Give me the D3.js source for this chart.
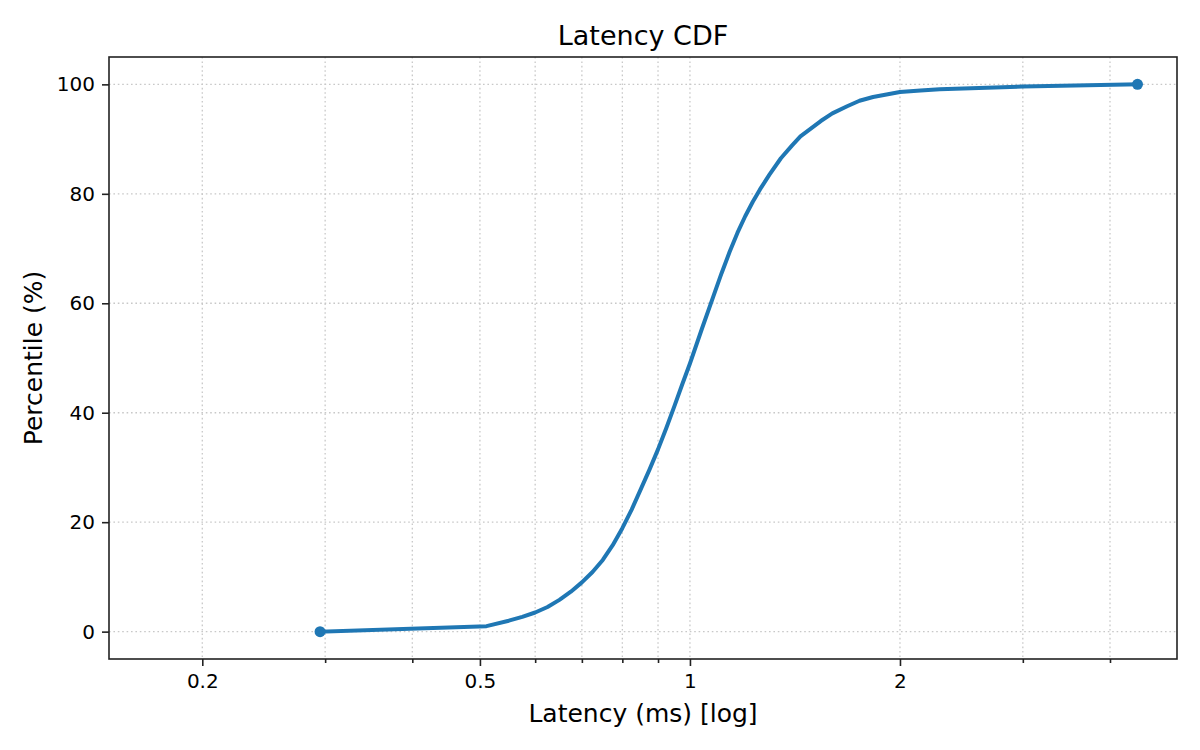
<!DOCTYPE html>
<html>
<head>
<meta charset="utf-8">
<script src="https://cdn.jsdelivr.net/npm/d3@7"></script>
<style>
  body { margin: 0; background: #fff; }
  svg text { font-family: "DejaVu Sans", sans-serif; fill: #000; }
</style>
</head>
<body>
<script>
// Data.
var latencyMs  = [0.295, 0.511, 0.55, 0.575, 0.6, 0.625, 0.65, 0.675, 0.7, 0.725, 0.75, 0.775,
                  0.8, 0.825, 0.85, 0.875, 0.9, 0.925, 0.95, 0.975, 1.0, 1.04, 1.08, 1.11,
                  1.14, 1.17, 1.2, 1.23, 1.26, 1.3, 1.35, 1.4, 1.44, 1.54, 1.6, 1.68, 1.75,
                  1.83, 2.0, 2.14, 2.28, 3.0, 4.38];
var percentile = [0, 1.0, 2.0, 2.7, 3.5, 4.5, 5.8, 7.3, 9.0, 10.9, 13.1, 15.8,
                  18.9, 22.3, 26.0, 29.6, 33.3, 37.2, 41.2, 45.2, 49.0, 55.3, 61.2, 65.5,
                  69.4, 72.9, 75.9, 78.5, 80.8, 83.5, 86.5, 88.8, 90.5, 93.3, 94.7, 96.0, 97.0,
                  97.7, 98.6, 98.9, 99.1, 99.6, 100];

var xMajorTicks = [0.2, 0.5, 1, 2];
var xMinorTicks = [0.3, 0.4, 0.6, 0.7, 0.8, 0.9, 3, 4];
var yTicks      = [0, 20, 40, 60, 80, 100];

// Canvas and plot area.
var width   = 1200,
    height  = 750,
    plotL   = 109,
    plotR   = 1177,
    plotT   = 57,
    plotB   = 659;

var lineColor = "#1f77b4",
    gridColor = "#c8c8c8";

var svg = d3.select("body")
    .append("svg")
    .attr("width", width)
    .attr("height", height);

var x = d3.scaleLog().domain([0.147, 4.99]).range([plotL, plotR]);
var y = d3.scaleLinear().domain([-5, 105]).range([plotB, plotT]);

// Grid: x major + minor, y major.
var grid = svg.append("g");
grid.selectAll("line.gx")
    .data(xMajorTicks.concat(xMinorTicks))
  .enter()
    .append("line")
    .attr("x1", function(d) { return x(d); })
    .attr("x2", function(d) { return x(d); })
    .attr("y1", plotT)
    .attr("y2", plotB)
    .attr("stroke", gridColor)
    .attr("stroke-width", 1.3)
    .attr("stroke-dasharray", "1.6,2.8");
grid.selectAll("line.gy")
    .data(yTicks)
  .enter()
    .append("line")
    .attr("x1", plotL)
    .attr("x2", plotR)
    .attr("y1", function(d) { return y(d); })
    .attr("y2", function(d) { return y(d); })
    .attr("stroke", gridColor)
    .attr("stroke-width", 1.3)
    .attr("stroke-dasharray", "1.6,2.8");

// Axes.
var xMajor = d3.axisBottom(x)
    .tickValues(xMajorTicks)
    .tickFormat(d3.format("~g"))
    .tickSize(7)
    .tickPadding(8);
var xMinor = d3.axisBottom(x)
    .tickValues(xMinorTicks)
    .tickFormat("")
    .tickSize(4);
var yAxis = d3.axisLeft(y)
    .tickValues(yTicks)
    .tickSize(7)
    .tickPadding(7);

var gxMinor = svg.append("g").attr("transform", "translate(0," + plotB + ")").call(xMinor);
var gxMajor = svg.append("g").attr("transform", "translate(0," + plotB + ")").call(xMajor);
var gy = svg.append("g").attr("transform", "translate(" + plotL + ",0)").call(yAxis);

[gxMinor, gxMajor, gy].forEach(function(g) {
    g.attr("font-size", 20).attr("font-family", "DejaVu Sans");
    g.select(".domain").remove();
    g.selectAll(".tick line").attr("stroke", "#222").attr("stroke-width", 1.6);
    g.selectAll(".tick text").attr("fill", "#000");
});

// Frame.
svg.append("rect")
    .attr("x", plotL)
    .attr("y", plotT)
    .attr("width", plotR - plotL)
    .attr("height", plotB - plotT)
    .attr("fill", "none")
    .attr("stroke", "#222")
    .attr("stroke-width", 1.6);

// CDF line.
var points = latencyMs.map(function(d, i) { return [d, percentile[i]]; });
var line = d3.line()
    .x(function(d) { return x(d[0]); })
    .y(function(d) { return y(d[1]); });

svg.append("path")
    .datum(points)
    .attr("d", line)
    .attr("fill", "none")
    .attr("stroke", lineColor)
    .attr("stroke-width", 4)
    .attr("stroke-linejoin", "round")
    .attr("stroke-linecap", "square");

// Markers on first and last point.
svg.selectAll("circle.end")
    .data([points[0], points[points.length - 1]])
  .enter()
    .append("circle")
    .attr("cx", function(d) { return x(d[0]); })
    .attr("cy", function(d) { return y(d[1]); })
    .attr("r", 5.5)
    .attr("fill", lineColor);

// Title and labels.
svg.append("text")
    .text("Latency CDF")
    .attr("x", (plotL + plotR) / 2)
    .attr("y", 45)
    .attr("text-anchor", "middle")
    .attr("font-size", "27px");

svg.append("text")
    .text("Latency (ms) [log]")
    .attr("x", (plotL + plotR) / 2)
    .attr("y", 722)
    .attr("text-anchor", "middle")
    .attr("font-size", "25px");

svg.append("text")
    .text("Percentile (%)")
    .attr("transform", "translate(42," + ((plotT + plotB) / 2) + ") rotate(-90)")
    .attr("text-anchor", "middle")
    .attr("font-size", "25px");
</script>
</body>
</html>
